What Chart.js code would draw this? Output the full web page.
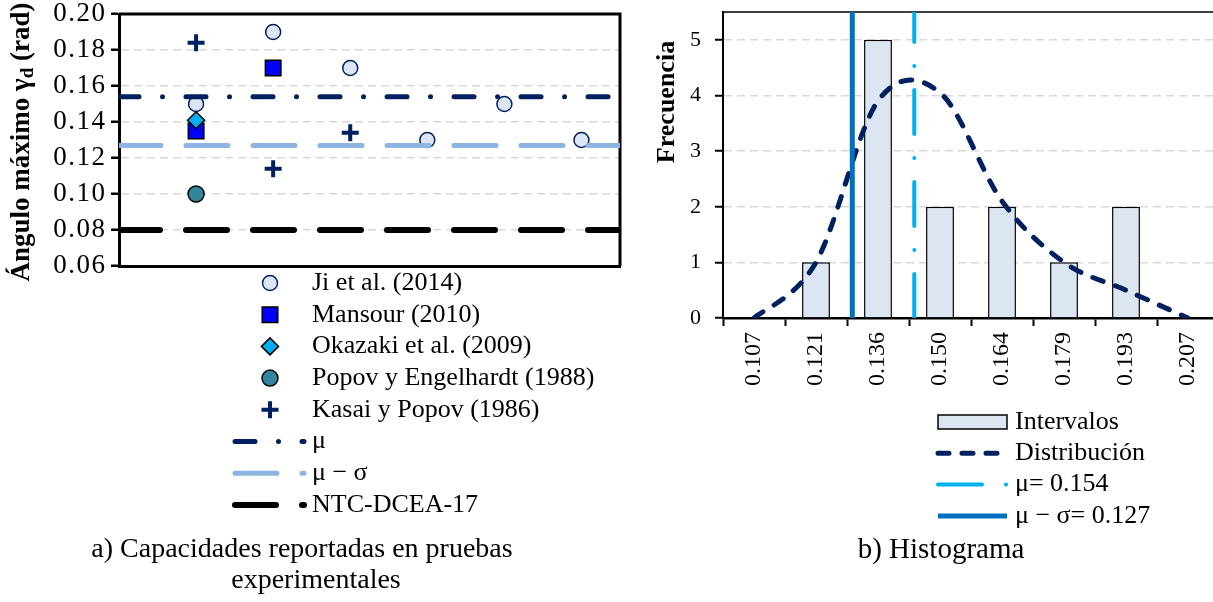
<!DOCTYPE html>
<html>
<head>
<meta charset="utf-8">
<title>Capacidades e histograma</title>
<script src="https://cdn.jsdelivr.net/npm/chart.js@4.4.0/dist/chart.umd.min.js"></script>
<style>
  html, body { margin: 0; padding: 0; background: #fff; overflow: hidden; width: 1213px; height: 602px; }
  #capacidades { position: absolute; left: 0; top: 0; }
  #histograma { position: absolute; left: 640px; top: 0; }
</style>
</head>
<body>
<canvas id="capacidades" width="640" height="602"></canvas>
<canvas id="histograma" width="600" height="602"></canvas>
<script>
var FUENTE = '"Liberation Serif", "Times New Roman", serif';
var AZUL_OSCURO = '#002060';

// a) capacidades por ensayo
var ensayo = [1, 2, 3, 4, 5, 6];
var jiEtAl2014 = [0.150, 0.190, 0.170, 0.130, 0.150, 0.130];
var mansour2010 = [0.135, 0.170];
var okazaki2009 = [0.141];
var popovEngelhardt1988 = [0.100];
var kasaiPopov1986 = [0.184, 0.114, 0.134];
var media = 0.154;
var mediaMenosDesv = 0.127;
var limiteNTC = 0.08;
var rangoEnsayos = [0, 6.5];
var ticksAngulo = [0.06, 0.08, 0.10, 0.12, 0.14, 0.16, 0.18, 0.20];

// b) histograma
var intervalos = ['0.107', '0.121', '0.136', '0.150', '0.164', '0.179', '0.193', '0.207'];
var frecuencias = [0, 1, 5, 2, 2, 1, 2, 0];
var distribucion = [0, 1.0, 3.9, 4.05, 2.1, 1.0, 0.5, 0];
var ticksFrecuencia = [0, 1, 2, 3, 4, 5];
var frecuenciaMax = 5.5;

function puntos(valores) {
  return valores.map(function (v, i) { return { x: ensayo[i], y: v }; });
}
function horizontal(v) {
  return rangoEnsayos.map(function (x) { return { x: x, y: v }; });
}
function vertical(v) {
  return [{ x: v, y: 0 }, { x: v, y: frecuenciaMax }];
}
function sinRelleno(s) {
  s.paddingTop = 0; s.paddingBottom = 0; s.paddingLeft = 0; s.paddingRight = 0;
}

// texto girado 90 grados, con partes de distinta fuente (subindices)
function textoVertical(ctx, x, y, partes) {
  ctx.save();
  ctx.translate(x, y);
  ctx.rotate(-Math.PI / 2);
  ctx.fillStyle = '#000';
  ctx.textBaseline = 'middle';
  ctx.textAlign = 'left';
  var total = 0;
  partes.forEach(function (p) { ctx.font = p.f; p.w = ctx.measureText(p.t).width; total += p.w; });
  var pos = -total / 2;
  partes.forEach(function (p) { ctx.font = p.f; ctx.fillText(p.t, pos, p.dy || 0); pos += p.w; });
  ctx.restore();
}

function muestraLinea(ctx, ds, x1, x2, y) {
  ctx.save();
  ctx.strokeStyle = ds.borderColor;
  ctx.lineWidth = ds.borderWidth;
  ctx.lineCap = ds.borderCapStyle || 'butt';
  ctx.setLineDash(ds.borderDash || []);
  ctx.beginPath();
  ctx.moveTo(x1, y);
  ctx.lineTo(x2, y);
  ctx.stroke();
  ctx.restore();
}

// borde superior y derecho del área de trazado
var marco = {
  id: 'marco',
  beforeDraw: function (chart, args, opts) {
    chart.ctx.letterSpacing = opts.espaciado || '0px';
  },
  beforeDatasetsDraw: function (chart, args, opts) {
    var a = chart.chartArea, ctx = chart.ctx;
    ctx.letterSpacing = '0px';
    ctx.save();
    ctx.strokeStyle = '#000';
    ctx.lineWidth = opts.ancho;
    ctx.beginPath();
    ctx.moveTo(a.left, a.top);
    ctx.lineTo(a.right, a.top);
    ctx.lineTo(a.right, a.bottom);
    ctx.stroke();
    ctx.restore();
  }
};

// curva suavizada con paso uniforme (Catmull-Rom) en lugar del suavizado por distancias
var suavizado = {
  id: 'suavizado',
  beforeDatasetDraw: function (chart, args) {
    var ds = chart.data.datasets[args.index];
    if (!ds.suavizadoUniforme) return;
    var linea = args.meta.dataset;
    if (linea.updateControlPoints) linea.updateControlPoints(chart.chartArea, 'x');
    var p = args.meta.data;
    for (var i = 0; i < p.length; i++) {
      var a = p[i - 1] || p[i], b = p[i + 1] || p[i];
      var dx = (b.x - a.x) / 6, dy = (b.y - a.y) / 6;
      p[i].cp1x = p[i].x - dx; p[i].cp1y = p[i].y - dy;
      p[i].cp2x = p[i].x + dx; p[i].cp2y = p[i].y + dy;
    }
    delete linea._path;
  }
};

var textosCapacidades = {
  id: 'textosCapacidades',
  afterDraw: function (chart) {
    var ctx = chart.ctx;
    textoVertical(ctx, 22, 142, [
      { t: 'Ángulo máximo γ', f: 'bold 27px ' + FUENTE },
      { t: 'd', f: 'bold 19px ' + FUENTE, dy: 6 },
      { t: ' (rad)', f: 'bold 27px ' + FUENTE }
    ]);
    ctx.save();
    ctx.font = '26px ' + FUENTE;
    ctx.fillStyle = '#000';
    ctx.textBaseline = 'middle';
    chart.data.datasets.forEach(function (ds, i) {
      var y = 283 + i * 31.7;
      if (ds.showLine) {
        muestraLinea(ctx, ds, 235, 304, y);
      } else {
        ctx.save();
        ctx.fillStyle = ds.backgroundColor;
        ctx.strokeStyle = ds.borderColor;
        ctx.lineWidth = ds.borderWidth;
        Chart.helpers.drawPoint(ctx, { pointStyle: ds.pointStyle, radius: ds.pointRadius, rotation: 0, borderWidth: ds.borderWidth }, 270, y);
        ctx.restore();
      }
      ctx.fillText(ds.label, 312, y);
    });
    ctx.textAlign = 'center';
    ctx.font = '28px ' + FUENTE;
    ctx.fillText('a) Capacidades reportadas en pruebas', 302, 550);
    ctx.fillText('experimentales', 316, 581);
    ctx.restore();
  }
};

new Chart(document.getElementById('capacidades'), {
  type: 'scatter',
  data: {
    datasets: [
      { label: 'Ji et al. (2014)', data: puntos(jiEtAl2014), pointStyle: 'circle', pointRadius: 7.5,
        backgroundColor: '#DCE6F2', borderColor: AZUL_OSCURO, borderWidth: 1.5, order: 5 },
      { label: 'Mansour (2010)', data: puntos(mansour2010), pointStyle: 'rect', pointRadius: 11,
        backgroundColor: '#0000FF', borderColor: '#000', borderWidth: 1.5, order: 4 },
      { label: 'Okazaki et al. (2009)', data: puntos(okazaki2009), pointStyle: 'rectRot', pointRadius: 8.5,
        backgroundColor: '#00B0F0', borderColor: '#000', borderWidth: 1.5, order: 3 },
      { label: 'Popov y Engelhardt (1988)', data: puntos(popovEngelhardt1988), pointStyle: 'circle', pointRadius: 8,
        backgroundColor: '#31859C', borderColor: '#000', borderWidth: 1.5, order: 2 },
      { label: 'Kasai y Popov (1986)', data: puntos(kasaiPopov1986), pointStyle: 'cross', pointRadius: 8.5,
        backgroundColor: AZUL_OSCURO, borderColor: AZUL_OSCURO, borderWidth: 4, order: 1 },
      { label: 'μ', data: horizontal(media), showLine: true, pointRadius: 0, borderColor: AZUL_OSCURO,
        borderWidth: 5, borderDash: [20, 23.5, 0.01, 23.5], borderCapStyle: 'round', order: 0 },
      { label: 'μ − σ', data: horizontal(mediaMenosDesv), showLine: true, pointRadius: 0, borderColor: '#8EB4E3',
        borderWidth: 5, borderDash: [42, 25], borderCapStyle: 'round', order: 0 },
      { label: 'NTC-DCEA-17', data: horizontal(limiteNTC), showLine: true, pointRadius: 0, borderColor: '#000',
        borderWidth: 6, borderDash: [41, 26], borderCapStyle: 'round', order: 0 }
    ]
  },
  options: {
    responsive: false,
    animation: false,
    layout: { padding: { top: 14, right: 20, left: 0, bottom: 0 } },
    plugins: { legend: { display: false }, tooltip: { enabled: false }, marco: { ancho: 3, espaciado: '1.5px' } },
    scales: {
      x: {
        type: 'linear', min: rangoEnsayos[0], max: rangoEnsayos[1],
        ticks: { display: false },
        grid: { display: false },
        border: { color: '#000', width: 3 },
        afterFit: function (s) { s.height = 336; sinRelleno(s); }
      },
      y: {
        min: 0.06, max: 0.20,
        afterBuildTicks: function (s) { s.ticks = ticksAngulo.map(function (v) { return { value: v }; }); },
        ticks: {
          color: '#000', padding: 4.5, font: { family: FUENTE, size: 27 },
          callback: function (v) { return v.toFixed(2); }
        },
        grid: { color: '#D9D9D9', lineWidth: 1.5, tickColor: '#000', tickLength: 8, tickWidth: 2.5 },
        border: { color: '#000', width: 3, dash: [8, 5] },
        afterFit: function (s) { s.width = 119; sinRelleno(s); }
      }
    }
  },
  plugins: [marco, textosCapacidades]
});

var textosHistograma = {
  id: 'textosHistograma',
  afterDraw: function (chart) {
    var ctx = chart.ctx;
    textoVertical(ctx, 27, 102, [{ t: 'Frecuencia', f: 'bold 26px ' + FUENTE }]);
    ctx.save();
    ctx.font = '26px ' + FUENTE;
    ctx.fillStyle = '#000';
    ctx.textBaseline = 'middle';
    chart.data.datasets.forEach(function (ds, i) {
      var y = 422 + i * 31.3;
      if (ds.type === 'bar') {
        ctx.save();
        ctx.fillStyle = ds.backgroundColor;
        ctx.strokeStyle = ds.borderColor;
        ctx.lineWidth = ds.borderWidth;
        ctx.fillRect(298, y - 7, 69, 14);
        ctx.strokeRect(298, y - 7, 69, 14);
        ctx.restore();
      } else {
        muestraLinea(ctx, ds, 298, 367, y);
      }
      ctx.fillText(ds.label, 375, y);
    });
    ctx.textAlign = 'center';
    ctx.font = '29px ' + FUENTE;
    ctx.fillText('b) Histograma', 301, 550);
    ctx.restore();
  }
};

new Chart(document.getElementById('histograma'), {
  type: 'bar',
  data: {
    labels: intervalos,
    datasets: [
      { type: 'bar', label: 'Intervalos', data: frecuencias, backgroundColor: '#DCE6F2', borderColor: '#000',
        borderWidth: 1.5, barPercentage: 0.45, categoryPercentage: 1, grouped: false, order: 3 },
      { type: 'line', label: 'Distribución', data: distribucion, borderColor: AZUL_OSCURO, borderWidth: 5,
        borderDash: [11, 13], borderCapStyle: 'round', tension: 0.4, pointRadius: 0, order: 2,
        suavizadoUniforme: true },
      { type: 'line', label: 'μ= 0.154', xAxisID: 'xv', data: vertical(media), borderColor: '#00B0F0',
        borderWidth: 4, borderDash: [44, 24, 0.01, 24], borderCapStyle: 'round', pointRadius: 0, order: 0 },
      { type: 'line', label: 'μ − σ= 0.127', xAxisID: 'xv', data: vertical(mediaMenosDesv), borderColor: '#0070C0',
        borderWidth: 5, pointRadius: 0, order: 1 }
    ]
  },
  options: {
    responsive: false,
    animation: false,
    layout: { padding: { top: 12, right: 21, left: 0, bottom: 0 } },
    plugins: { legend: { display: false }, tooltip: { enabled: false }, marco: { ancho: 1.5 } },
    scales: {
      x: {
        type: 'category', offset: true,
        ticks: { color: '#000', minRotation: 90, maxRotation: 90, padding: 6, font: { family: FUENTE, size: 24 } },
        grid: { offset: true, drawOnChartArea: false, tickLength: 8, tickColor: '#000', tickWidth: 2 },
        border: { color: '#000', width: 2.5 },
        afterFit: function (s) { s.height = 284; sinRelleno(s); }
      },
      // eje auxiliar para las rectas verticales de media y media menos desviación
      xv: { type: 'linear', display: false, offset: false, bounds: 'data', min: 0.0707, max: 0.2867,
        grid: { offset: false } },
      y: {
        min: 0, max: frecuenciaMax,
        afterBuildTicks: function (s) { s.ticks = ticksFrecuencia.map(function (v) { return { value: v }; }); },
        ticks: { color: '#000', padding: 14, font: { family: FUENTE, size: 22 } },
        grid: { color: '#D9D9D9', lineWidth: 1.5, tickColor: '#000', tickLength: 8, tickWidth: 2 },
        border: { color: '#000', width: 2, dash: [8, 5] },
        afterFit: function (s) { s.width = 83; sinRelleno(s); }
      }
    }
  },
  plugins: [marco, suavizado, textosHistograma]
});
</script>
</body>
</html>
